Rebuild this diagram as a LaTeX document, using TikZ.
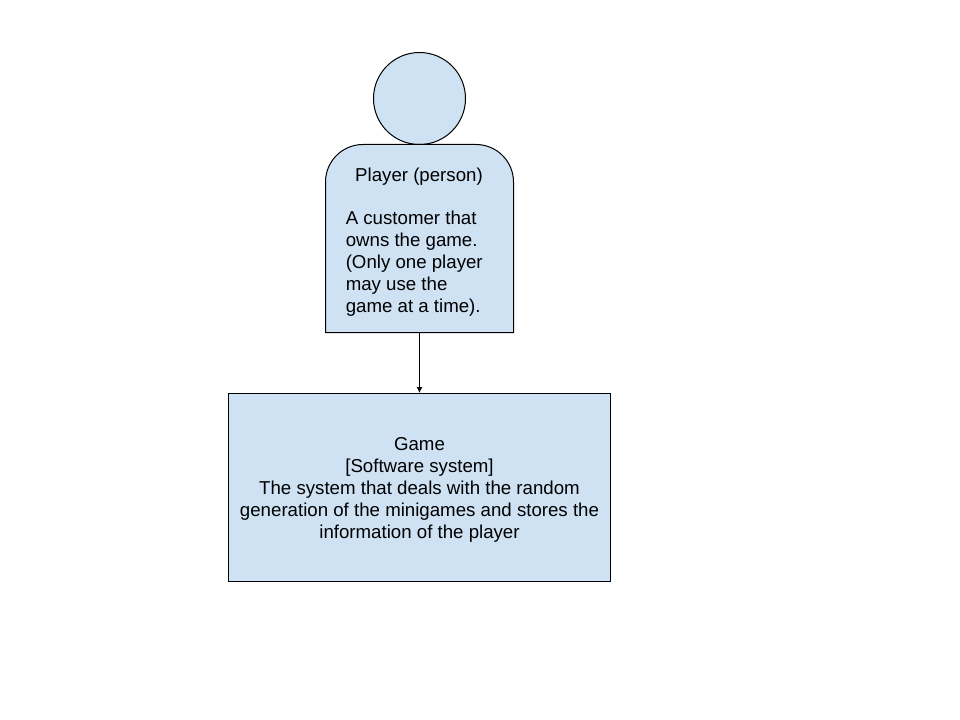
\documentclass[tikz,border=0pt]{standalone}
\usepackage{fontspec}
\setmainfont{Liberation Sans}
\usetikzlibrary{arrows.meta}
\definecolor{boxfill}{HTML}{CFE2F3}
\tikzset{
  px/.style={x=0.75pt,y=-0.75pt},
  shapeline/.style={draw=black,fill=boxfill,line width=0.75pt},
  txt/.style={font=\fontsize{14pt}{16.5pt}\selectfont,inner sep=0pt,text=black},
  conn/.style={draw=black,line width=0.75pt,-{Latex[length=4.5pt,width=4.5pt]}}
}
\begin{document}
\begin{tikzpicture}[px]
\useasboundingbox (0,0) rectangle (960,720);
\fill[white] (0,0) rectangle (960,720);
\node[shapeline,circle,minimum size=69pt,inner sep=0pt] (head) at (419.5,98.5) {};
\path[shapeline] (325.5,332.5) -- (325.5,182) arc[start angle=180,end angle=270,radius=37.5] -- (476,144.5) arc[start angle=270,end angle=360,radius=37.5] -- (513.5,332.5) -- cycle;
\coordinate (bodybottom) at (419.5,332.5);
\node[txt] (ptitle) at (419,177) {Player (person)};
\node[txt,align=left,anchor=north west] (pdesc) at (345.5,211) {A customer that\\owns the game.\\(Only one player\\may use the\\game at a time).};
\node[shapeline,rectangle,minimum width=286pt,minimum height=141pt,inner sep=0pt] (game) at (419.5,487.5) {};
\node[txt,align=center] (gtext) at (419.5,489.5) {Game\\{[Software system]}\\The system that deals with the random\\generation of the minigames and stores the\\information of the player};
\draw[conn] (bodybottom) -- (game.north);
\end{tikzpicture}
\end{document}
